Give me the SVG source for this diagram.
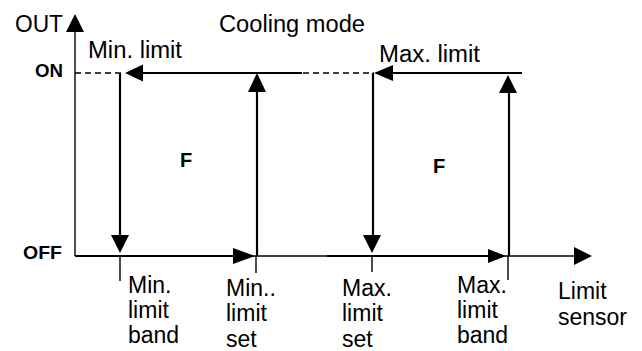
<svg xmlns="http://www.w3.org/2000/svg" width="642" height="351" viewBox="0 0 642 351">
<style>
  .thin{stroke:#000;stroke-width:1.4;fill:none}
  .thick{stroke:#000;stroke-width:2.2;fill:none}
  .dash{stroke:#000;stroke-width:1.3;fill:none;stroke-dasharray:6 4}
  .head{fill:#000;stroke:none}
  text{font-family:"Liberation Sans",Arial,sans-serif;fill:#000}
  .lbl{font-size:23px}
  .b{font-weight:bold}
</style>
<rect width="642" height="351" fill="#fff"/>
<g id="connectors">
  <!-- axes -->
  <line class="thin" x1="75" y1="256" x2="75" y2="30"/>
  <polygon class="head" points="75,14 66,32 84,32"/>
  <line class="thin" x1="75" y1="256" x2="576" y2="256"/>
  <polygon class="head" points="592,256 574,247 574,265"/>
  <!-- dashed ON reference -->
  <line class="dash" x1="75" y1="73" x2="125" y2="73"/>
  <line class="dash" x1="303" y1="73" x2="374" y2="73"/>
  <!-- Min loop -->
  <line class="thick" x1="302" y1="73" x2="140" y2="73"/>
  <polygon class="head" points="125,73 143,64.5 143,81.5"/>
  <line class="thick" x1="120" y1="73" x2="120" y2="237"/>
  <polygon class="head" points="120,253 111,235 129,235"/>
  <line class="thick" x1="75" y1="256" x2="236" y2="256"/>
  <polygon class="head" points="255,256 233,248 233,264"/>
  <line class="thick" x1="257" y1="256" x2="257" y2="90"/>
  <polygon class="head" points="257,73 248,92 266,92"/>
  <!-- Max loop -->
  <line class="thick" x1="522" y1="73" x2="390" y2="73"/>
  <polygon class="head" points="374,73 393,65 393,81"/>
  <line class="thick" x1="373" y1="73" x2="373" y2="237"/>
  <polygon class="head" points="372,253 363,235 381,235"/>
  <line class="thick" x1="327" y1="256" x2="490" y2="256"/>
  <polygon class="head" points="506,256 488,249 488,263"/>
  <line class="thick" x1="509" y1="256" x2="509" y2="90"/>
  <polygon class="head" points="508,75 499,93 517,93"/>
  <!-- ticks -->
  <line class="thin" x1="120" y1="256" x2="120" y2="281"/>
  <line class="thin" x1="256" y1="256" x2="256" y2="273"/>
  <line class="thin" x1="372" y1="256" x2="372" y2="272"/>
  <line class="thin" x1="508" y1="256" x2="508" y2="280"/>
</g>
<g id="axis-labels">
  <text x="15" y="32" font-size="24" textLength="48" lengthAdjust="spacingAndGlyphs">OUT</text>
  <text class="b" x="35" y="77" font-size="18" textLength="28" lengthAdjust="spacingAndGlyphs">ON</text>
  <text class="b" x="23" y="259" font-size="18" textLength="39" lengthAdjust="spacingAndGlyphs">OFF</text>
  <text class="lbl" x="219" y="32" textLength="146" lengthAdjust="spacingAndGlyphs">Cooling mode</text>
</g>
<g id="node-min">
  <text class="lbl" x="88" y="58" textLength="94" lengthAdjust="spacingAndGlyphs">Min. limit</text>
  <text class="b" x="180" y="167" font-size="20">F</text>
</g>
<g id="node-max">
  <text class="lbl" x="379" y="62" textLength="101" lengthAdjust="spacingAndGlyphs">Max. limit</text>
  <text class="b" x="433" y="173" font-size="20">F</text>
</g>
<g id="label-min-band">
  <text class="lbl" x="128" y="293">Min.</text>
  <text class="lbl" x="128" y="318">limit</text>
  <text class="lbl" x="128" y="343">band</text>
</g>
<g id="label-min-set">
  <text class="lbl" x="226" y="296">Min..</text>
  <text class="lbl" x="226" y="321">limit</text>
  <text class="lbl" x="226" y="347">set</text>
</g>
<g id="label-max-set">
  <text class="lbl" x="342" y="296">Max.</text>
  <text class="lbl" x="342" y="321">limit</text>
  <text class="lbl" x="342" y="347">set</text>
</g>
<g id="label-max-band">
  <text class="lbl" x="457" y="293">Max.</text>
  <text class="lbl" x="457" y="318">limit</text>
  <text class="lbl" x="457" y="343">band</text>
</g>
<g id="label-sensor">
  <text class="lbl" x="558" y="299">Limit</text>
  <text class="lbl" x="558" y="325">sensor</text>
</g>
</svg>
